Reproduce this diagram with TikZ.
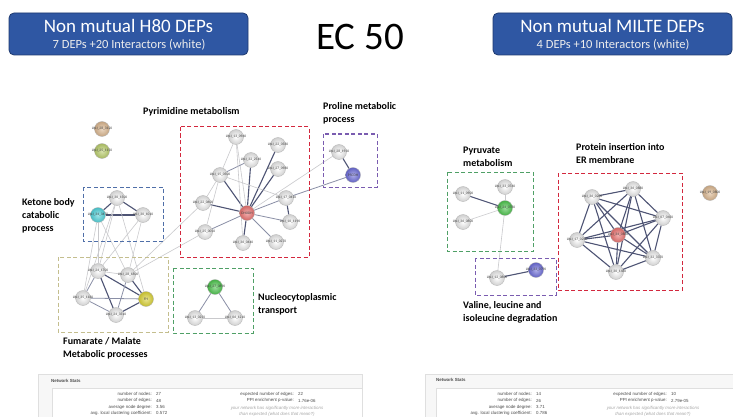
\documentclass[tikz,border=0pt]{standalone}
\usepackage{fontspec}
\setmainfont{Carlito}
\newfontfamily\statfont{Liberation Sans}
\usetikzlibrary{backgrounds}
\definecolor{bannerblue}{HTML}{2F57A3}
\definecolor{bannerdark}{HTML}{1E3A70}
\definecolor{edgedark}{HTML}{4E5474}
\definecolor{edgemid}{HTML}{8A8FA6}
\definecolor{edgelight}{HTML}{C9C9CC}
\definecolor{boxred}{HTML}{D3283E}
\definecolor{boxblue}{HTML}{4F6FA8}
\definecolor{boxpurple}{HTML}{7A5CB0}
\definecolor{boxgreen}{HTML}{4FA066}
\definecolor{boxkhaki}{HTML}{C4BE8E}
\definecolor{nodegray}{HTML}{CFCFCF}
\definecolor{depred}{HTML}{E8706E}
\definecolor{depcyan}{HTML}{4FD0D8}
\definecolor{depyellow}{HTML}{D8D034}
\definecolor{depgreen}{HTML}{4CC24C}
\definecolor{deppurple}{HTML}{6B6BD6}
\definecolor{deptan}{HTML}{D9B58E}
\definecolor{depolive}{HTML}{B8CC6A}
\tikzset{
  banner/.style={draw=bannerdark, fill=bannerblue, rounded corners=5pt, line width=0.8pt},
  gn/.style={circle, minimum size=15pt, inner sep=0pt, shading=radial, inner color=white, outer color=nodegray, draw=gray!60, line width=0.3pt},
  dep/.style={gn, inner color=white!45!#1, outer color=#1!90!black},
  lbl/.style={font=\fontsize{3.6}{4}\selectfont, text=black!75, inner sep=0pt},
  grp/.style={draw=#1, line width=1pt, dash pattern=on 4pt off 2.5pt},
  ttl/.style={font=\bfseries\fontsize{10}{13}\selectfont, align=left, anchor=north west, inner sep=0pt},
  strong/.style={draw=edgedark, line width=1.1pt},
  mid/.style={draw=edgemid, line width=0.8pt},
  weak/.style={draw=edgelight, line width=0.6pt},
  statlbl/.style={font=\statfont\fontsize{4.4}{5}\selectfont, text=black!70, inner sep=0pt},
  statgray/.style={font=\statfont\itshape\fontsize{4.4}{5}\selectfont, text=black!35, inner sep=0pt},
}
\newcommand{\nd}[5]{\node[#1, label={[lbl]center:#5}] (#2) at (#3,#4) {};}
\begin{document}
\begin{tikzpicture}[x=1pt, y=-1pt]
\useasboundingbox (0,0) rectangle (733,417);

% headers
\node[banner, minimum width=239pt, minimum height=42pt, inner sep=0pt] (bl) at (128.5,34) {};
\node[text=white, font=\fontsize{19}{21}\selectfont, inner sep=0pt] (blt) at (128.5,26) {Non mutual H80 DEPs};
\node[text=white!85!gray, font=\fontsize{12.5}{14}\selectfont, inner sep=0pt] (bls) at (129,45) {7 DEPs +20 Interactors (white)};
\node[banner, minimum width=239pt, minimum height=42pt, inner sep=0pt] (br) at (612.5,34) {};
\node[text=white, font=\fontsize{19}{21}\selectfont, inner sep=0pt] (brt) at (612.5,26) {Non mutual MILTE DEPs};
\node[text=white!85!gray, font=\fontsize{12.5}{14}\selectfont, inner sep=0pt] (brs) at (613,45) {4 DEPs +10 Interactors (white)};
\node[font=\fontsize{39}{42}\selectfont, inner sep=0pt] (ec) at (360,37) {EC 50};

% group frames
\draw[grp=boxred] (180,127) rectangle (309,257);
\draw[grp=boxpurple] (323,134) rectangle (377,187);
\draw[grp=boxblue] (83,187) rectangle (163,241);
\draw[grp=boxkhaki] (58,257) rectangle (168,332);
\draw[grp=boxgreen] (173,268) rectangle (253,333);
\draw[grp=boxgreen] (447,172) rectangle (533,251);
\draw[grp=boxpurple] (475,258) rectangle (556,295);
\draw[grp=boxred] (558,173) rectangle (682,290);

% group titles
\node[ttl] (tpyr) at (143,107) {Pyrimidine metabolism};
\node[ttl] (tpro) at (323,102) {Proline metabolic\\process};
\node[ttl] (tket) at (22,198) {Ketone body\\catabolic\\process};
\node[ttl] (tfum) at (63,337) {Fumarate / Malate\\Metabolic processes};
\node[ttl] (tnuc) at (258,293) {Nucleocytoplasmic\\transport};
\node[ttl] (tpyv) at (463,147) {Pyruvate\\metabolism};
\node[ttl] (tval) at (463,301) {Valine, leucine and\\isoleucine degradation};
\node[ttl] (tpro2) at (576,143) {Protein insertion into\\ER membrane};

% left network nodes
\nd{dep=deptan}{l28}{102}{129}{LINJ\_28\_3120}
\nd{dep=depolive}{l25}{102}{151}{LINJ\_25\_1150}
\nd{gn}{p13}{236}{137}{LINJ\_13\_0960}
\nd{gn}{p22a}{278}{145}{LINJ\_22\_0580}
\nd{gn}{p32}{251}{160}{LINJ\_32\_2540}
\nd{gn}{p27}{278}{169}{LINJ\_27\_0980}
\nd{gn}{p15}{220}{175}{LINJ\_15\_0500}
\nd{gn}{p17}{286}{198}{LINJ\_17\_0410}
\nd{gn}{p22b}{203}{203}{LINJ\_22\_0600}
\nd{dep=depred}{dhodh}{247}{213}{DHODH}
\nd{gn}{p10}{290}{222}{LINJ\_10\_1190}
\nd{gn}{p25}{205}{232}{LINJ\_25\_0050}
\nd{gn}{p36}{243}{243}{LINJ\_36\_0440}
\nd{gn}{p11}{276}{242}{LINJ\_11\_0270}
\nd{gn}{pr28}{339}{152}{LINJ\_28\_1930}
\nd{dep=deppurple}{p5c}{353}{175}{P5CDH}
\nd{gn}{k30a}{117}{198}{LINJ\_30\_1500}
\nd{dep=depcyan}{k34}{98}{215}{LINJ\_34\_3470}
\nd{gn}{k30b}{143}{215}{LINJ\_30\_1010}
\nd{gn}{f24a}{98}{271}{LINJ\_24\_1700}
\nd{gn}{f28}{128}{275}{LINJ\_28\_1800}
\nd{gn}{f35}{83}{298}{LINJ\_35\_1180}
\nd{dep=depyellow}{fh}{146}{299}{FH}
\nd{gn}{f24b}{116}{315}{LINJ\_24\_3310}
\nd{dep=depgreen}{n27}{215}{287}{LINJ\_27\_0890}
\nd{gn}{n13}{195}{318}{LINJ\_13\_0250}
\nd{gn}{n06}{235}{318}{LINJ\_06\_1210}

% right network nodes
\nd{gn}{r11}{463}{194}{LINJ\_11\_0900}
\nd{gn}{r33}{505}{187}{LINJ\_33\_0760}
\nd{dep=depgreen}{rg}{505}{208}{LINJ\_24\_0780}
\nd{gn}{r36}{463}{222}{LINJ\_36\_0800}
\nd{gn}{v12}{497}{278}{LINJ\_12\_0800}
\nd{dep=deppurple}{vp}{536}{270}{LINJ\_33\_0790}
\nd{gn}{e36a}{633}{189}{LINJ\_36\_0880}
\nd{gn}{e36b}{592}{197}{LINJ\_36\_0280}
\nd{gn}{e07}{663}{218}{LINJ\_07\_0450}
\nd{dep=depred}{er}{618}{235}{LINJ\_34\_0860}
\nd{gn}{e17}{577}{240}{LINJ\_17\_0230}
\nd{gn}{e32}{653}{258}{LINJ\_32\_3370}
\nd{gn}{e30}{616}{272}{LINJ\_30\_1480}
\nd{dep=deptan}{rl}{710}{193}{LINJ\_19\_0800}

% connectors, kept behind the nodes
\begin{scope}[on background layer]
\fill[white] (0,0) rectangle (733,417);
% pyrimidine cluster
\foreach \a in {p22a,p32,p27,p15,p22b,p36} \draw[strong] (dhodh) -- (\a);
\foreach \a in {p17,p10,p25,p11} \draw[mid] (dhodh) -- (\a);
\draw[weak] (dhodh) -- (p13);
\draw[weak] (p15) -- (p13);
\draw[mid] (p15) -- (p32);
\draw[weak] (p15) -- (p22b);
\draw[weak] (p15) -- (p17);
\draw[weak] (p15) -- (p25);
\draw[weak] (p13) -- (p36);
\draw[strong] (p17) -- (p10);
% proline
\draw[weak] (dhodh) -- (pr28);
\draw[mid] (p17) -- (p5c);
\draw[strong] (pr28) -- (p5c);
% ketone body
\draw[strong] (k34) -- (k30a);
\draw[strong] (k30a) -- (k30b);
\draw[strong] (k34) -- (k30b);
% fumarate / malate, with links upward
\foreach \a/\b in {f24a/k34,f24a/k30a,f24a/k30b,f35/k34,f35/k30a,f28/k34,f28/k30b,fh/k30a,f28/p22b,f28/p25,f24a/f28}
  \draw[weak] (\a) -- (\b);
\foreach \a/\b in {f24a/fh,f28/fh,f24a/f24b,f24b/fh} \draw[strong] (\a) -- (\b);
\foreach \a/\b in {f35/fh,f35/f24b,f35/f24a,f28/f24b} \draw[mid] (\a) -- (\b);
% nucleocytoplasmic transport
\draw[mid] (n27) -- (n13);
\draw[mid] (n27) -- (n06);
\draw[weak] (n13) -- (n06);
% pyruvate / valine
\draw[strong] (r11) -- (rg);
\draw[weak] (r33) -- (rg);
\draw[weak] (r36) -- (rg);
\draw[weak] (rg) -- (v12);
\draw[strong] (v12) -- (vp);
% protein insertion clique
\foreach \a/\b in {e36a/e36b,e36a/e07,e36a/er,e36a/e17,e36a/e32,e36a/e30,
                   e36b/e07,e36b/er,e36b/e17,e36b/e32,e36b/e30,
                   e07/er,e07/e17,e07/e32,e07/e30,
                   er/e17,er/e32,er/e30,e17/e32,e17/e30,e32/e30}
  \draw[strong] (\a) -- (\b);
\end{scope}

% network statistics panels
\draw[fill=gray!6, draw=gray!25] (38,374) rectangle (362,420);
\node[statlbl, font=\statfont\bfseries\fontsize{4.4}{5}\selectfont, anchor=west] (nsl) at (51,381) {Network Stats};
\draw[fill=white, draw=gray!25] (52,388) rectangle (362,420);
\node[statlbl, anchor=east] (a1) at (152,394) {number of nodes:};
\node[statlbl, anchor=east] (a2) at (152,400.5) {number of edges:};
\node[statlbl, anchor=east] (a3) at (152,407) {average node degree:};
\node[statlbl, anchor=east] (a4) at (152,413) {avg. local clustering coefficient:};
\node[statlbl, anchor=west] (v1) at (156,394) {27};
\node[statlbl, anchor=west] (v2) at (156,400.5) {48};
\node[statlbl, anchor=west] (v3) at (156,407) {3.56};
\node[statlbl, anchor=west] (v4) at (156,413) {0.572};
\node[statlbl, anchor=east] (a5) at (294,394) {expected number of edges:};
\node[statlbl, anchor=east] (a6) at (294,400.5) {PPI enrichment p-value:};
\node[statlbl, anchor=west] (v5) at (298,394) {22};
\node[statlbl, anchor=west] (v6) at (298,400.5) {1.76e-06};
\node[statgray] (g1) at (277,408) {your network has significantly more interactions};
\node[statgray] (g2) at (277,414.5) {than expected (what does that mean?)};

\draw[fill=gray!6, draw=gray!25] (425,374) rectangle (735,420);
\node[statlbl, font=\statfont\bfseries\fontsize{4.4}{5}\selectfont, anchor=west] (nsr) at (436,380) {Network Stats};
\draw[fill=white, draw=gray!25] (436,388) rectangle (735,420);
\node[statlbl, anchor=east] (b1) at (532,394) {number of nodes:};
\node[statlbl, anchor=east] (b2) at (532,400.5) {number of edges:};
\node[statlbl, anchor=east] (b3) at (532,407) {average node degree:};
\node[statlbl, anchor=east] (b4) at (532,413) {avg. local clustering coefficient:};
\node[statlbl, anchor=west] (w1) at (536,394) {14};
\node[statlbl, anchor=west] (w2) at (536,400.5) {26};
\node[statlbl, anchor=west] (w3) at (536,407) {3.71};
\node[statlbl, anchor=west] (w4) at (536,413) {0.786};
\node[statlbl, anchor=east] (b5) at (667,394) {expected number of edges:};
\node[statlbl, anchor=east] (b6) at (667,400.5) {PPI enrichment p-value:};
\node[statlbl, anchor=west] (w5) at (671,394) {10};
\node[statlbl, anchor=west] (w6) at (671,400.5) {2.79e-05};
\node[statgray] (h1) at (653,408) {your network has significantly more interactions};
\node[statgray] (h2) at (653,414.5) {than expected (what does that mean?)};
\end{tikzpicture}
\end{document}
